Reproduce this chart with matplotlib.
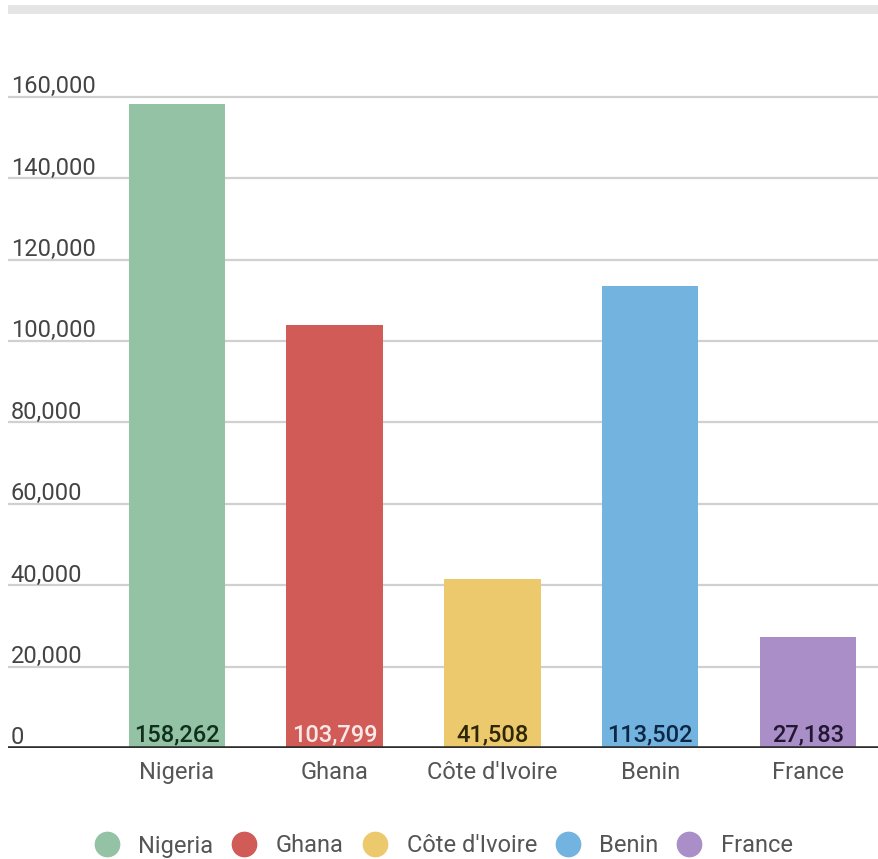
import matplotlib.pyplot as plt
import matplotlib.transforms as mtransforms
from matplotlib.lines import Line2D

countries = ["Nigeria", "Ghana", "Côte d'Ivoire", "Benin", "France"]
values = [158262, 103799, 41508, 113502, 27183]
bar_colors = ["#93c3a4", "#d15b57", "#ebc96c", "#73b3e0", "#a98ec8"]
label_colors = ["#10301e", "#fbe9e8", "#2e2604", "#0d2845", "#231733"]
yticks = [0, 20000, 40000, 60000, 80000, 100000, 120000, 140000, 160000]

plt.rcParams['font.family'] = ['Roboto', 'DejaVu Sans']

fig = plt.figure(figsize=(8.79, 8.59), dpi=100)
ax = fig.add_axes([8 / 879, (859 - 748) / 859, 1 - 8 / 879, (748 - 56) / 859])

x = list(range(len(countries)))
ax.bar(x, values, width=0.61, color=bar_colors, zorder=2)

ax.set_xlim(-1.07, 4.45)
ax.set_ylim(0, 170000)

# gridlines with labels sitting just above them
offset = mtransforms.ScaledTranslation(0, -1 / 72, fig.dpi_scale_trans)
trans = mtransforms.blended_transform_factory(ax.transAxes, ax.transData) + offset
for t in yticks:
    if t > 0:
        ax.axhline(t, color="#d0d0d0", lw=1.6, zorder=1)
    ax.text(0.003, t, f"{t:,}", transform=trans, ha="left", va="bottom",
            fontsize=17, color="#444444")

ax.axhline(0, color="#2e2e2e", lw=2.6, zorder=3)

for xi, v, c in zip(x, values, label_colors):
    ax.annotate(f"{v:,}", (xi, 0), xytext=(0, 1), textcoords="offset points",
                ha="center", va="bottom", fontsize=17, fontweight="medium",
                color=c, zorder=4)

ax.set_xticks(x)
ax.set_xticklabels(countries, fontsize=17, color="#555555")
ax.tick_params(axis="x", length=0, pad=9.5)
ax.set_yticks([])
for s in ax.spines.values():
    s.set_visible(False)

# grey strip across the top
fig.patches.append(plt.Rectangle((8 / 879, (859 - 14) / 859), 1, 9 / 859,
                                 transform=fig.transFigure, color="#e5e5e5", lw=0))

handles = [Line2D([], [], marker="o", ls="", markersize=17.5, color=c) for c in bar_colors]
fig.legend(handles, countries, loc="center", bbox_to_anchor=(444 / 879, (859 - 846) / 859),
           ncol=5, frameon=False, fontsize=17, handlelength=1.0, handletextpad=0.85,
           columnspacing=0.8, labelcolor="#555555")

fig.savefig("out.png", dpi=100)
